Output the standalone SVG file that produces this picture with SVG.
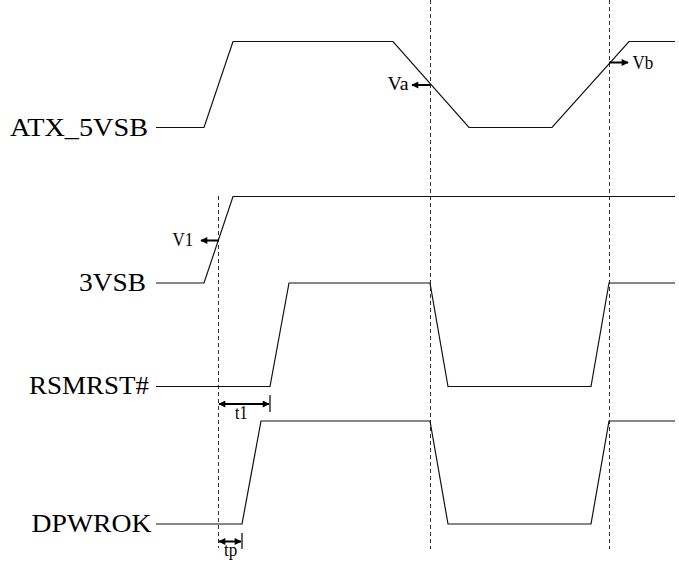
<svg xmlns="http://www.w3.org/2000/svg" width="679" height="562" viewBox="0 0 679 562">
<style>
.sig{fill:none;stroke:#111;stroke-width:1.2;stroke-linejoin:miter}
.dash{fill:none;stroke:#333;stroke-width:1;stroke-dasharray:4 3}
.arr{fill:none;stroke:#000;stroke-width:2}
.tick{fill:none;stroke:#000;stroke-width:1.2}
.lbl{font-family:"Times New Roman","Liberation Serif",Tinos,"Nimbus Roman",serif;font-size:25px;fill:#000}
.sm{font-family:"Times New Roman","Liberation Serif",Tinos,"Nimbus Roman",serif;font-size:18px;fill:#000}
</style>
<defs>
<marker id="ah" viewBox="0 0 10 10" refX="9" refY="5" markerWidth="4" markerHeight="3.5" orient="auto-start-reverse" markerUnits="strokeWidth">
<path d="M0,0 L10,5 L0,10 Z" fill="#000"/>
</marker>
</defs>
<rect width="679" height="562" fill="#fff"/>
<g id="guides">
<line class="dash" x1="218.5" y1="196" x2="218.5" y2="548"/>
<line class="dash" x1="430.5" y1="0" x2="430.5" y2="549"/>
<line class="dash" x1="609.5" y1="0" x2="609.5" y2="549"/>
</g>
<g id="atx5vsb">
<text class="lbl" x="10" y="136" textLength="138" lengthAdjust="spacingAndGlyphs">ATX_5VSB</text>
<polyline class="sig" points="156,127.5 204,127.5 233,41.5 393,41.5 469,127.5 552,127.5 629,41.5 675,41.5"/>
</g>
<g id="v3vsb">
<text class="lbl" x="79" y="291" textLength="67" lengthAdjust="spacingAndGlyphs">3VSB</text>
<polyline class="sig" points="156,283 204,283 233,196.5 675,196.5"/>
</g>
<g id="rsmrst">
<text class="lbl" x="29" y="394.3" textLength="120" lengthAdjust="spacingAndGlyphs">RSMRST#</text>
<polyline class="sig" points="156,386.5 270,386.5 289,283 430,283 448,386.5 591,386.5 609,283 675,283"/>
</g>
<g id="dpwrok">
<text class="lbl" x="31.5" y="532.3" textLength="120" lengthAdjust="spacingAndGlyphs">DPWROK</text>
<polyline class="sig" points="156,524 242,524 261,421 430,421 448,524 591,524 609,421 675,421"/>
</g>
<g id="connectors">
<line class="arr" x1="430" y1="85" x2="412" y2="85" marker-end="url(#ah)"/>
<line class="arr" x1="609" y1="62.5" x2="628" y2="62.5" marker-end="url(#ah)"/>
<line class="arr" x1="218" y1="240.5" x2="201" y2="240.5" marker-end="url(#ah)"/>
<line class="arr" x1="219" y1="404" x2="269" y2="404" marker-start="url(#ah)" marker-end="url(#ah)"/>
<line class="tick" x1="270" y1="395" x2="270" y2="412"/>
<line class="arr" x1="219" y1="541.5" x2="241" y2="541.5" marker-start="url(#ah)" marker-end="url(#ah)"/>
<line class="tick" x1="242" y1="533" x2="242" y2="549"/>
</g>
<g id="labels">
<text class="sm" x="387.5" y="90" textLength="21" lengthAdjust="spacingAndGlyphs">Va</text>
<text class="sm" x="632.5" y="69.3" textLength="20.7" lengthAdjust="spacingAndGlyphs">Vb</text>
<text class="sm" x="172.5" y="245.5" textLength="20.7" lengthAdjust="spacingAndGlyphs">V1</text>
<text class="sm" x="235" y="418.5" textLength="12.5" lengthAdjust="spacingAndGlyphs">t1</text>
<text class="sm" x="224" y="555.5" textLength="13.3" lengthAdjust="spacingAndGlyphs">tp</text>
</g>
</svg>
